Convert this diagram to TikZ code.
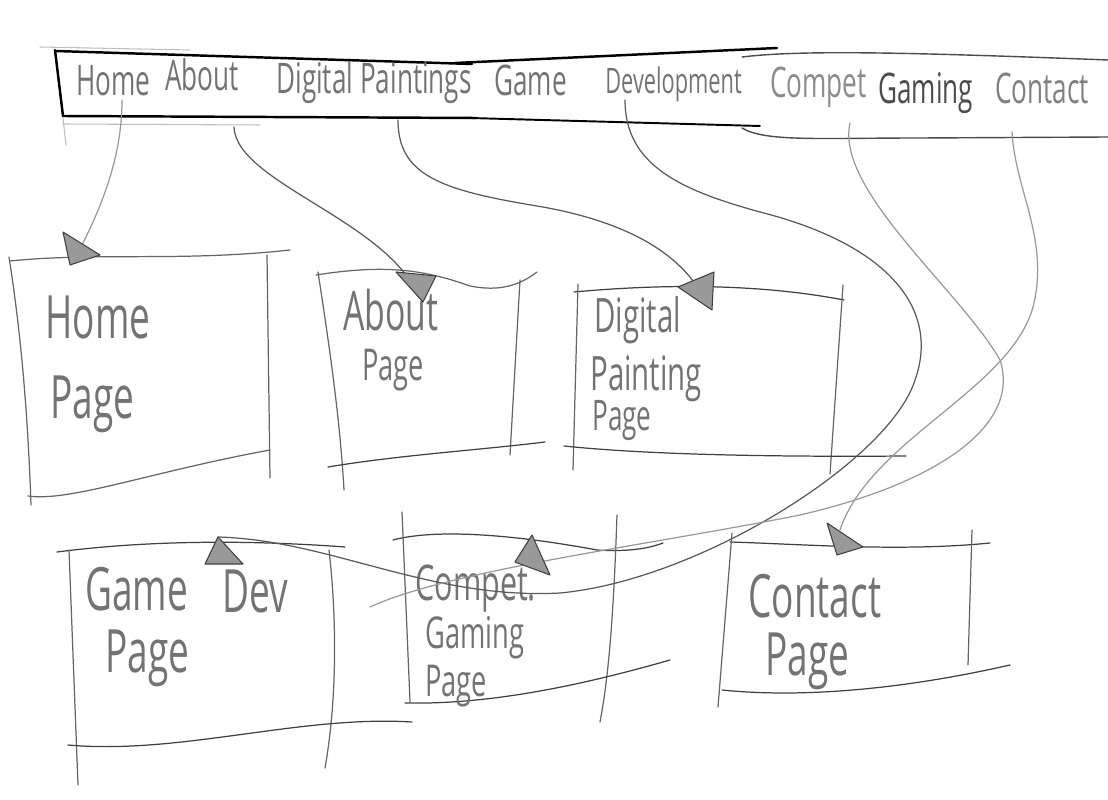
\documentclass[tikz,border=0pt]{standalone}
\usepackage{fontspec}
\newfontfamily\hand[FakeStretch=0.62]{Open Sans}
\tikzset{
  bar/.style={line width=1.4pt, draw=black},
  barthin/.style={line width=0.8pt, draw=black!70},
  faint/.style={line width=0.6pt, draw=black!25},
  edge/.style={line width=0.7pt, draw=black!60},
  conn/.style={line width=0.7pt, draw=black!65},
  connlight/.style={line width=0.7pt, draw=black!40},
  tip/.style={draw=black!75, fill=black!40, line width=0.6pt, line join=round},
  lab/.style={font=\hand\fontsize{24}{24}\selectfont, text=black!55, inner sep=0pt, anchor=base west},
  plab/.style={font=\hand\fontsize{34}{34}\selectfont, text=black!55, inner sep=0pt, anchor=base west},
}
\begin{document}
\begin{tikzpicture}[x=0.02cm, y=-0.02cm, line cap=round, line join=round]
\useasboundingbox (0,0) rectangle (1108,800);

% ---------- navigation bar ----------
\draw[bar] (55,50) -- (63,116);
\draw[bar] (55,51) -- (472,64);
\draw[bar] (455,63) -- (777,48);
\draw[bar] (63,116) -- (476,118);
\draw[bar, line width=1.1pt] (470,118) -- (760,126);
\draw[faint] (40,47) -- (190,50);
\draw[faint] (63,118) -- (66,145);
\draw[faint] (63,124) -- (260,125);
\draw[barthin] (742,57) .. controls (800,50) and (900,52) .. (1108,60);
\draw[barthin] (742,128) .. controls (765,142) and (820,138) .. (920,138) -- (1108,137);

\node[lab] (nHome) at (76,96) {Home};
\node[lab] (nAbout) at (165,91) {About};
\node[lab] (nDig) at (276,94) {Digital Paintings};
\node[lab] (nGame) at (494,96) {Game};
\node[lab, font=\hand\fontsize{20}{20}\selectfont] (nDev) at (605,94) {Development};
\node[lab, text=black!45] (nComp) at (770,98) {Compet};
\node[lab, text=black!70] (nGam) at (878,104) {Gaming};
\node[lab, text=black!50] (nCont) at (995,104) {Contact};

% ---------- Home page box ----------
\draw[edge] (10,261) .. controls (100,252) and (180,262) .. (290,250);
\draw[edge] (9,257) .. controls (22,340) and (28,420) .. (31,505);
\draw[edge] (267,255) -- (270,478);
\draw[edge] (28,496) .. controls (70,502) and (150,472) .. (270,450);
\node[plab] (tHome1) at (45,338) {Home};
\node[plab] (tHome2) at (50,418) {Page};

% ---------- About page box ----------
\draw[edge] (316,275) .. controls (380,265) and (420,268) .. (470,286) .. controls (500,292) and (520,285) .. (537,272);
\draw[edge] (318,272) .. controls (330,350) and (340,420) .. (344,490);
\draw[edge] (520,280) -- (510,455);
\draw[edge, draw=black!75] (328,467) .. controls (400,455) and (480,450) .. (545,442);
\node[plab, font=\hand\fontsize{31}{31}\selectfont] (tAbout1) at (343,331) {About};
\node[plab, font=\hand\fontsize{25}{25}\selectfont] (tAbout2) at (362,380) {Page};

% ---------- Digital painting page box ----------
\draw[edge, draw=black!75] (574,292) .. controls (650,285) and (750,282) .. (844,300);
\draw[edge] (578,284) -- (573,470);
\draw[edge] (843,285) -- (830,474);
\draw[edge, draw=black!75] (564,446) .. controls (650,455) and (780,457) .. (906,456);
\node[plab, font=\hand\fontsize{27}{27}\selectfont] (tDig1) at (594,333) {Digital};
\node[plab, font=\hand\fontsize{27}{27}\selectfont] (tDig2) at (590,390) {Painting};
\node[plab, font=\hand\fontsize{24}{24}\selectfont] (tDig3) at (592,430) {Page};

% ---------- Game dev page box ----------
\draw[edge, draw=black!75] (57,552) .. controls (150,540) and (250,540) .. (345,547);
\draw[edge] (69,550) -- (78,785);
\draw[edge] (329,550) .. controls (337,620) and (337,700) .. (325,768);
\draw[edge, draw=black!75] (68,745) .. controls (180,755) and (300,715) .. (412,722);
\node[plab] (tGame1) at (85,610) {Game};
\node[plab] (tGame2) at (222,612) {Dev};
\node[plab] (tGame3) at (105,672) {Page};

% ---------- Compet. gaming page box ----------
\draw[edge, draw=black!75] (393,540) .. controls (430,530) and (500,532) .. (597,550) .. controls (630,552) and (650,548) .. (663,543);
\draw[edge] (402,512) -- (410,702);
\draw[edge] (617,515) .. controls (614,600) and (610,670) .. (600,722);
\draw[edge, draw=black!75] (405,703) .. controls (500,705) and (600,680) .. (670,660);
\node[plab, font=\hand\fontsize{28}{28}\selectfont] (tComp1) at (415,600) {Compet.};
\node[plab, font=\hand\fontsize{25}{25}\selectfont] (tComp2) at (425,648) {Gaming};
\node[plab, font=\hand\fontsize{25}{25}\selectfont] (tComp3) at (425,696) {Page};

% ---------- Contact page box ----------
\draw[edge, draw=black!75] (730,542) .. controls (800,544) and (900,552) .. (990,543);
\draw[edge] (732,533) -- (718,707);
\draw[edge] (972,530) -- (968,665);
\draw[edge, draw=black!75] (722,690) .. controls (800,698) and (900,690) .. (1010,665);
\node[plab] (tCont1) at (748,617) {Contact};
\node[plab] (tCont2) at (765,675) {Page};

% ---------- connector end points ----------
\coordinate (sHome) at (122,100);
\coordinate (eHome) at (77,255);
\coordinate (sAbout) at (234,127);
\coordinate (eAbout) at (418,295);
\coordinate (sDig) at (398,120);
\coordinate (eDig) at (705,300);
\coordinate (sDev) at (625,100);
\coordinate (eDev) at (218,537);
\coordinate (sComp) at (850,123);
\coordinate (eComp) at (370,607);
\coordinate (sCont) at (1012,132);
\coordinate (eCont) at (840,530);

% ---------- connectors ----------
\draw[connlight] (sHome) .. controls (122,160) and (100,210) .. (eHome);
\draw[conn] (sAbout) .. controls (236,182) and (385,220) .. (eAbout);
\draw[conn] (sDig) .. controls (398,175) and (440,190) .. (537,206) .. controls (620,220) and (680,250) .. (eDig);
\draw[conn] (sDev) .. controls (625,165) and (680,190) .. (760,212) .. controls (890,245) and (940,310) .. (915,380) .. controls (890,460) and (700,580) .. (560,593) .. controls (430,600) and (330,540) .. (eDev);
\draw[connlight] (sComp) .. controls (835,190) and (960,290) .. (1000,360) .. controls (1020,420) and (950,480) .. (800,515) .. controls (650,545) and (450,570) .. (eComp);
\draw[connlight] (sCont) .. controls (1015,190) and (1050,240) .. (1033,307) .. controls (1010,390) and (870,440) .. (eCont);

% ---------- arrow heads ----------
\draw[tip] (63,232) -- (100,255) -- (70,265) -- cycle;
\draw[tip] (396,272) -- (436,276) -- (423,302) -- cycle;
\draw[tip] (678,287) -- (714,272) -- (712,310) -- cycle;
\draw[tip] (218,537) -- (205,564) -- (243,564) -- cycle;
\draw[tip] (532,535) -- (515,562) -- (550,575) -- cycle;
\draw[tip] (827,523) -- (863,547) -- (837,555) -- cycle;
\end{tikzpicture}
\end{document}
